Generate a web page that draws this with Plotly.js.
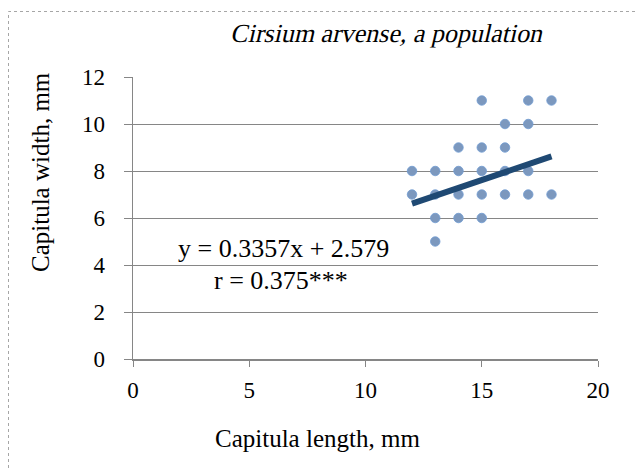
<!DOCTYPE html>
<html><head><meta charset="utf-8">
<script src="https://cdn.plot.ly/plotly-3.0.1.min.js"></script>
<style>html,body{margin:0;padding:0;background:#fff}#c{width:638px;height:470px}</style>
</head><body><div id="c"></div>
<script>
// Scatter points (capitula length, capitula width)
const lengthMm = [12,12, 13,13,13,13, 14,14,14,14, 15,15,15,15,15, 16,16,16,16, 17,17,17,17, 18,18];
const widthMm  = [7,8,   5,6,7,8,     6,7,8,9,     6,7,8,9,11,    7,8,9,10,     7,8,10,11,    7,11];
// Trend line endpoints
const trendX = [12, 18];
const trendY = [6.61, 8.62];
const xTicks = [0,5,10,15,20];
const yTicks = [0,2,4,6,8,10,12];
const titleText = "Cirsium arvense, a population";
const eqText = "y = 0.3357x + 2.579";
const rText = "r = 0.375***";

const font = "Liberation Serif";
const data = [
  {x: lengthMm, y: widthMm, type: 'scatter', mode: 'markers',
   marker: {size: 9.5, color: 'rgb(124,152,190)', line: {width: 0.8, color: 'rgb(110,155,210)'}},
   hoverinfo: 'skip', showlegend: false},
  {x: trendX, y: trendY, type: 'scatter', mode: 'lines',
   line: {color: 'rgb(31,73,115)', width: 6}, hoverinfo: 'skip', showlegend: false}
];
const layout = {
  width: 638, height: 470,
  margin: {l: 133, r: 40, t: 77, b: 111},
  paper_bgcolor: '#fff', plot_bgcolor: '#fff',
  font: {family: font, size: 23, color: '#000'},
  xaxis: {range: [0, 20], tickvals: xTicks, ticktext: xTicks.map(String),
    showgrid: false, zeroline: false, showline: true, linecolor: '#868686', linewidth: 1.5,
    ticks: 'outside', ticklen: 6, tickcolor: '#868686', ticklabelstandoff: 4,
    tickfont: {family: font, size: 23, color: '#000'}},
  yaxis: {range: [0, 12], tickvals: yTicks, ticktext: yTicks.map(String),
    showgrid: true, gridcolor: '#868686', gridwidth: 1, zeroline: false,
    showline: true, linecolor: '#868686', linewidth: 1.5,
    ticks: 'outside', ticklen: 8, tickcolor: '#868686', ticklabelstandoff: 14,
    tickfont: {family: font, size: 23, color: '#000'}},
  annotations: [
    {text: titleText, xref: 'paper', yref: 'paper', x: (388-133)/465, y: (359-33)/282,
     showarrow: false, xanchor: 'center', yanchor: 'middle', name: 'charttitle',
     font: {family: font, size: 26, color: '#000'}},
    {text: 'Capitula length, mm', xref: 'paper', yref: 'paper', x: (317-133)/465, y: (359-438)/282,
     showarrow: false, xanchor: 'center', yanchor: 'middle', font: {family: font, size: 25}},
    {text: 'Capitula width, mm', xref: 'paper', yref: 'paper', x: (40-133)/465, y: (359-172)/282,
     showarrow: false, xanchor: 'center', yanchor: 'middle', textangle: -90, font: {family: font, size: 25}},
    {text: eqText, xref: 'paper', yref: 'paper', x: (283-133)/465, y: (359-248)/282,
     showarrow: false, xanchor: 'center', yanchor: 'middle', font: {family: font, size: 26}},
    {text: rText, xref: 'paper', yref: 'paper', x: (281-133)/465, y: (359-280)/282,
     showarrow: false, xanchor: 'center', yanchor: 'middle', font: {family: font, size: 26}}
  ],
  shapes: [
    {type: 'path', xref: 'paper', yref: 'paper', layer: 'below',
     path: 'M ' + ((8.5-133)/465) + ' ' + ((359-480)/282) + ' L ' + ((8.5-133)/465) + ' ' + ((359-11.5)/282) + ' L ' + ((650-133)/465) + ' ' + ((359-11.5)/282),
     line: {color: '#a6a6a6', width: 1, dash: 'dot'}}
  ]
};
Plotly.newPlot('c', data, layout, {staticPlot: true, displayModeBar: false}).then(function(gd){
  // emulate a serif italic (no serif italic face installed) by skewing the title text
  const texts = gd.querySelectorAll('.annotation-text');
  texts.forEach(function(t){
    if (t.textContent === titleText) {
      const bb = t.getBBox();
      const cy = bb.y + bb.height / 2;
      const k = Math.tan(13 * Math.PI / 180);
      t.setAttribute('transform', 'translate(' + (k * cy) + ',0) skewX(-13)');
    }
  });
});
</script></body></html>
